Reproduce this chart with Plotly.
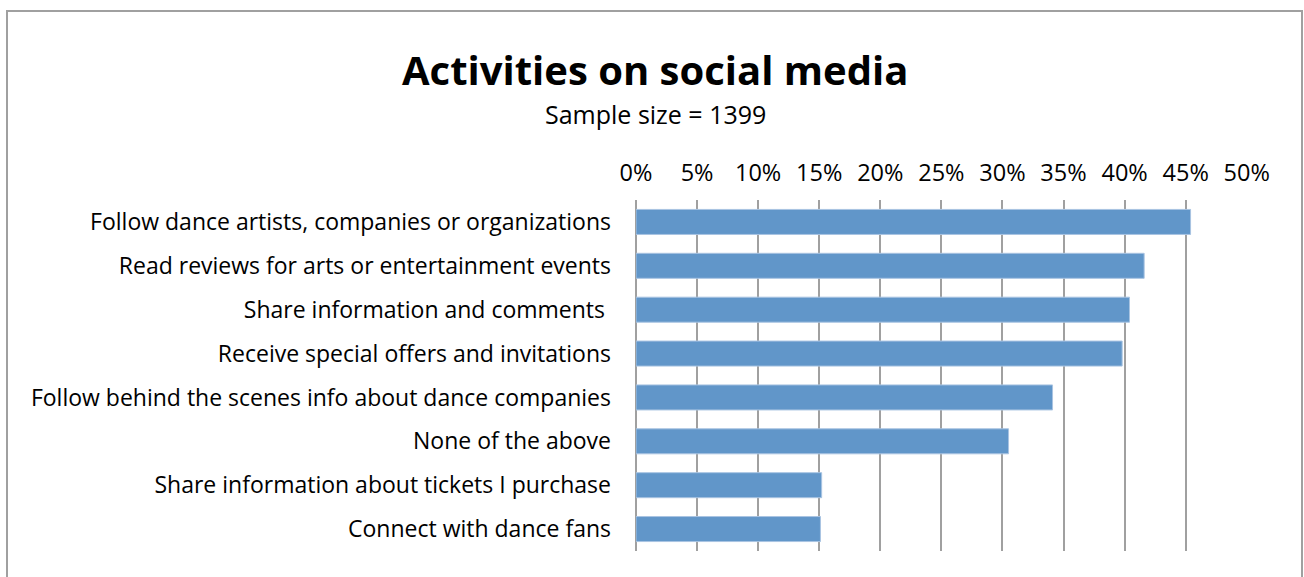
import plotly.graph_objects as go

categories = [
    "Follow dance artists, companies or organizations",
    "Read reviews for arts or entertainment events",
    "Share information and comments ",
    "Receive special offers and invitations",
    "Follow behind the scenes info about dance companies",
    "None of the above",
    "Share information about tickets I purchase",
    "Connect with dance fans",
]
values = [0.454, 0.416, 0.404, 0.398, 0.341, 0.305, 0.152, 0.151]
tick_vals = [0, 0.05, 0.10, 0.15, 0.20, 0.25, 0.30, 0.35, 0.40, 0.45, 0.50]
tick_text = ["0%", "5%", "10%", "15%", "20%", "25%", "30%", "35%", "40%", "45%", "50%"]

title_text = "Activities on social media"
subtitle_text = "Sample size = 1399"

FONT = "Open Sans"

W, H = 1304, 577
L, R, T, B = 636, 57, 200, 26
pw, ph = W - L - R, H - T - B

def px_to_paper_x(px):
    return (px - L) / pw

def px_to_paper_y(py):
    return (H - B - py) / ph

fig = go.Figure(
    go.Bar(
        x=values,
        y=categories,
        orientation="h",
        marker=dict(color="#6196C9", line=dict(color="#A9C4E2", width=1)),
        width=0.57,
        hoverinfo="skip",
    )
)

fig.update_layout(
    width=W,
    height=H,
    margin=dict(l=L, r=R, t=T, b=B, autoexpand=False),
    paper_bgcolor="white",
    plot_bgcolor="white",
    showlegend=False,
    font=dict(family=FONT, color="black", size=23),
    xaxis=dict(
        side="top",
        range=[0, 0.5002],
        tickvals=tick_vals,
        ticktext=tick_text,
        showgrid=True,
        gridcolor="#A0A0A0",
        gridwidth=2,
        zeroline=True,
        zerolinecolor="#A0A0A0",
        zerolinewidth=2,
        showline=False,
        ticks="",
        ticklabelstandoff=13,
        tickfont=dict(family=FONT, size=23.5, color="black"),
        fixedrange=True,
    ),
    yaxis=dict(
        categoryorder="array",
        categoryarray=categories,
        autorange="reversed",
        showgrid=False,
        zeroline=False,
        showline=False,
        ticks="",
        ticklabelstandoff=24,
        tickfont=dict(family=FONT, size=23, color="black"),
        fixedrange=True,
    ),
    annotations=[
        dict(
            text="<b>" + title_text + "</b>",
            xref="paper", yref="paper",
            x=px_to_paper_x(655), y=px_to_paper_y(69),
            xanchor="center", yanchor="middle",
            showarrow=False,
            font=dict(family=FONT, size=40, color="black"),
        ),
        dict(
            text=subtitle_text,
            xref="paper", yref="paper",
            x=px_to_paper_x(655), y=px_to_paper_y(114),
            xanchor="center", yanchor="middle",
            showarrow=False,
            font=dict(family=FONT, size=25, color="black"),
        ),
    ],
    shapes=[
        dict(
            type="rect",
            xref="paper", yref="paper",
            x0=px_to_paper_x(7), x1=px_to_paper_x(1302),
            y0=px_to_paper_y(11), y1=px_to_paper_y(600),
            line=dict(color="#A0A0A0", width=2),
            fillcolor="rgba(0,0,0,0)",
            layer="below",
        )
    ],
)

fig.write_html("out.html")
